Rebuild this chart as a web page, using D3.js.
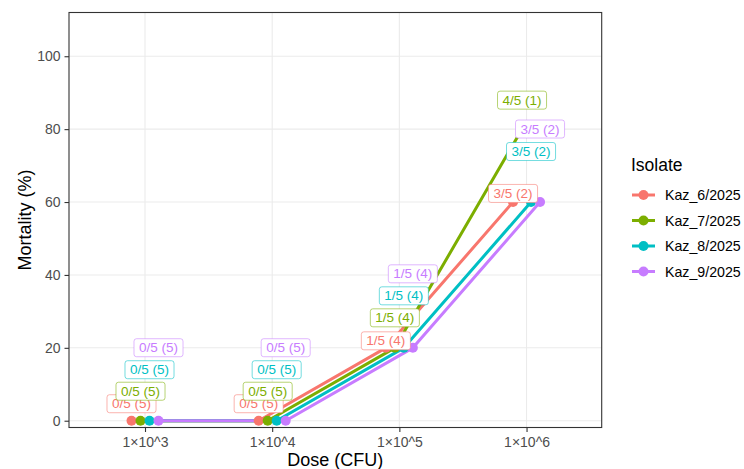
<!DOCTYPE html>
<html>
<head>
<meta charset="utf-8">
<script src="https://cdn.jsdelivr.net/npm/d3@7"></script>
<style>
  body { margin: 0; background: #fff; }
  svg { display: block; font-family: "Liberation Sans", Arial, sans-serif; }
</style>
</head>
<body>
<svg id="chart" width="744" height="469"></svg>
<script>
// ---- data ----
const isolates = ["Kaz_6/2025", "Kaz_7/2025", "Kaz_8/2025", "Kaz_9/2025"];
const doses = [1e3, 1e4, 1e5, 1e6];
const doseLabels = ["1×10^3", "1×10^4", "1×10^5", "1×10^6"];
const groupSize = 5;
const mortKaz6 = [0, 0, 20, 60];
const mortKaz7 = [0, 0, 20, 80];
const mortKaz8 = [0, 0, 20, 60];
const mortKaz9 = [0, 0, 20, 60];
const yTicks = [0, 20, 40, 60, 80, 100];
const colors = ["#F8766D", "#7CAE00", "#00BFC4", "#C77CFF"];

const series = [mortKaz6, mortKaz7, mortKaz8, mortKaz9];

// label lift above point, px (repel-like layout)
const labelLift = [
  [17, 17, 7, 8.6],
  [29.5, 29.5, 30, 29],
  [51, 51, 52, 50.5],
  [73, 73, 74, 73]
];

// ---- layout ----
const panel = { left: 69, right: 601.7, top: 12.5, bottom: 427.5 };
const svg = d3.select("#chart");

const x = d3.scaleLog().domain([Math.pow(10, 2.4024), Math.pow(10, 6.591)])
  .range([panel.left, panel.right]);
const y = d3.scaleLinear().domain([-1.86, 112]).range([panel.bottom, panel.top]);
const dodge = d3.scaleBand().domain(isolates).range([-18, 18]);
const dx = iso => dodge(iso) + dodge.bandwidth() / 2;

// gridlines
const g = svg.append("g");
g.selectAll("line.gy").data(yTicks).join("line")
  .attr("x1", panel.left).attr("x2", panel.right)
  .attr("y1", d => y(d)).attr("y2", d => y(d))
  .attr("stroke", "#EBEBEB").attr("stroke-width", 1.1);
g.selectAll("line.gx").data(doses).join("line")
  .attr("y1", panel.top).attr("y2", panel.bottom)
  .attr("x1", d => x(d)).attr("x2", d => x(d))
  .attr("stroke", "#EBEBEB").attr("stroke-width", 1.1);

// lines
const line = d3.line().x(d => d.x).y(d => d.y);
const pts = isolates.map((iso, i) => doses.map((dose, j) => ({
  iso, i, j, dose, v: series[i][j],
  x: x(dose) + dx(iso), y: y(series[i][j])
})));

svg.append("g").selectAll("path").data(pts).join("path")
  .attr("d", d => line(d))
  .attr("fill", "none")
  .attr("stroke", (d, i) => colors[i])
  .attr("stroke-width", 3)
  .attr("stroke-linejoin", "round");

svg.append("g").selectAll("g").data(pts).join("g")
  .each(function(d, i) {
    d3.select(this).selectAll("circle").data(d).join("circle")
      .attr("cx", p => p.x).attr("cy", p => p.y).attr("r", 5)
      .attr("fill", colors[i]);
  });

// labels
const lab = svg.append("g").attr("font-size", 13.5);
pts.forEach((arr, i) => {
  arr.forEach(p => {
    const dead = Math.round(p.v / 100 * groupSize);
    const txt = `${dead}/${groupSize} (${groupSize - dead})`;
    const cy = p.y - labelLift[i][p.j];
    const gg = lab.append("g");
    const t = gg.append("text").attr("x", p.x).attr("y", cy)
      .attr("text-anchor", "middle").attr("dominant-baseline", "central")
      .attr("fill", colors[i]).text(txt);
    const w = t.node().getComputedTextLength() + 10;
    gg.insert("rect", "text")
      .attr("x", p.x - w / 2).attr("y", cy - 9)
      .attr("width", w).attr("height", 18)
      .attr("rx", 2.5)
      .attr("fill", "#fff")
      .attr("stroke", colors[i]).attr("stroke-opacity", 0.55)
      .attr("stroke-width", 1);
  });
});

// panel border
svg.append("rect")
  .attr("x", panel.left).attr("y", panel.top)
  .attr("width", panel.right - panel.left).attr("height", panel.bottom - panel.top)
  .attr("fill", "none").attr("stroke", "#333").attr("stroke-width", 1.1);

// axes
const yAxis = svg.append("g").attr("transform", `translate(${panel.left},0)`)
  .call(d3.axisLeft(y).tickValues(yTicks).tickSize(4.5).tickPadding(4));
const xAxis = svg.append("g").attr("transform", `translate(0,${panel.bottom})`)
  .call(d3.axisBottom(x).tickValues(doses).tickSize(4.5).tickPadding(5)
    .tickFormat((d, i) => doseLabels[i]));
[yAxis, xAxis].forEach(a => {
  a.select(".domain").remove();
  a.selectAll(".tick line").attr("stroke", "#333").attr("stroke-width", 1.1);
  a.selectAll(".tick text").attr("fill", "#4D4D4D").attr("font-size", 14)
    .attr("font-family", "Liberation Sans, Arial, sans-serif");
});

// axis titles
svg.append("text").attr("x", (panel.left + panel.right) / 2).attr("y", 466)
  .attr("text-anchor", "middle").attr("font-size", 18).attr("fill", "#000")
  .text("Dose (CFU)");
svg.append("text")
  .attr("transform", `translate(30.5,${(panel.top + panel.bottom) / 2}) rotate(-90)`)
  .attr("text-anchor", "middle").attr("font-size", 18).attr("fill", "#000")
  .text("Mortality (%)");

// legend
const leg = svg.append("g");
leg.append("text").attr("x", 631).attr("y", 171).attr("font-size", 17.5)
  .attr("fill", "#000").text("Isolate");
const legY = d3.scalePoint().domain(isolates).range([195, 271.5]);
const items = leg.selectAll("g.item").data(isolates).join("g")
  .attr("transform", d => `translate(0,${legY(d)})`);
items.append("line").attr("x1", 632).attr("x2", 655)
  .attr("stroke", (d, i) => colors[i]).attr("stroke-width", 3);
items.append("circle").attr("cx", 643.5).attr("r", 5)
  .attr("fill", (d, i) => colors[i]);
items.append("text").attr("x", 665).attr("dominant-baseline", "central")
  .attr("font-size", 14.2).attr("fill", "#000").text(d => d);
</script>
</body>
</html>
